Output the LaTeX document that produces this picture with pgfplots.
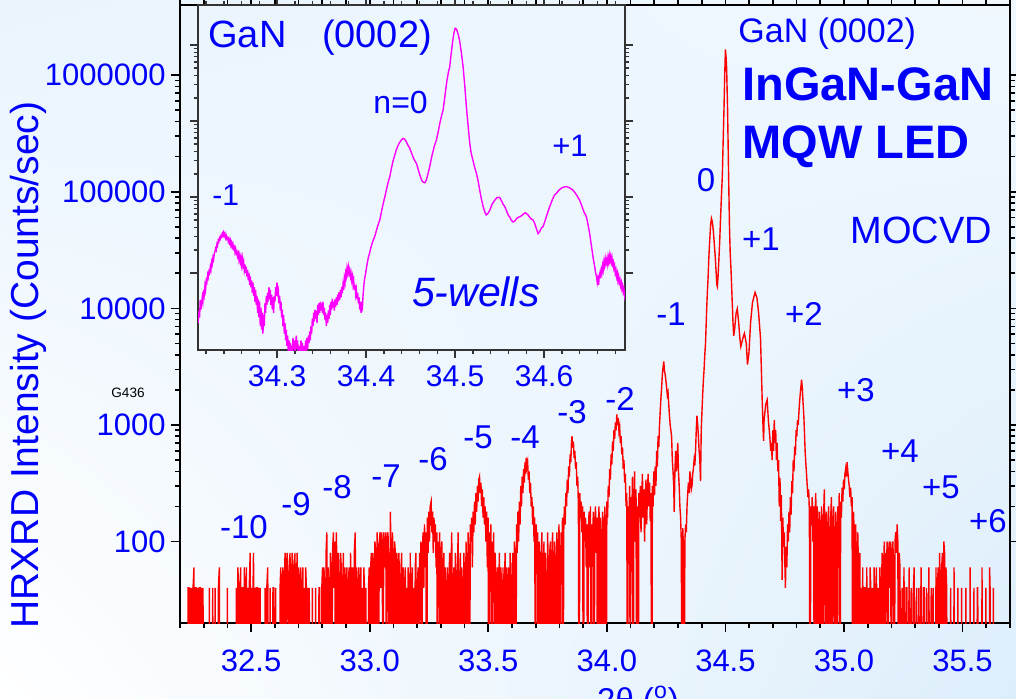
\documentclass[border=0pt]{standalone}
\usepackage{fontspec}
\setmainfont{Liberation Sans}
\usepackage{pgfplots}
\pgfplotsset{compat=1.18}
\usetikzlibrary{shadings}
\newcommand\fs[1]{\fontsize{#1}{#1}\selectfont}
\definecolor{txtblue}{RGB}{0,0,250}
\definecolor{mag}{RGB}{255,0,255}
\definecolor{rd}{RGB}{255,0,0}
\definecolor{bgTL}{RGB}{233,244,253}
\definecolor{bgTR}{RGB}{240,248,254}
\definecolor{bgBR}{RGB}{221,238,251}
\begin{document}
\begin{tikzpicture}
\path[use as bounding box] (0,0) rectangle (508pt,349pt);
\clip (0,0) rectangle (508pt,349pt);
\shade[upper left=bgTL, upper right=bgTR, lower left=white, lower right=bgBR] (0,0) rectangle (508pt,349pt);

\begin{axis}[
  at={(90pt,37.5pt)}, anchor=south west,
  width=415pt, height=309pt, scale only axis,
  xmin=32.2, xmax=35.7, ymode=log, ymin=20, ymax=4e6,
  xtick={32.5,33,...,35.5},
  minor xtick={32.2,32.3,...,35.7},
  ytick={100,1000,10000,100000,1000000},
  yticklabels={100,1000,10000,100000,1000000},
  tick align=outside,
  axis line style={line width=1pt},
  major tick length=4.5pt, minor tick length=2.5pt,
  every tick/.style={black, line width=0.8pt},
  xticklabel style={/pgf/number format/.cd, fixed, fixed zerofill, precision=1, assume math mode=true, /tikz/.cd,
    font=\fs{15.5}, text=txtblue, anchor=north, inner sep=0pt, yshift=-8.5pt},
  yticklabel style={font=\fs{15.5}, text=txtblue, anchor=east, inner sep=0pt, xshift=-2.5pt},
  clip=true,
]
\addplot[rd, line width=0.7pt] table {
x y
32.200 1
32.232 1
32.234 40
32.238 40
32.240 1
32.243 40
32.246 1
32.249 40
32.252 1
32.255 40
32.259 60
32.261 1
32.264 40
32.268 40
32.270 1
32.274 40
32.277 1
32.281 40
32.285 40
32.287 1
32.291 40
32.294 1
32.297 40
32.299 1
32.322 1
32.324 40
32.326 1
32.336 1
32.338 40
32.340 1
32.346 1
32.348 40
32.350 1
32.360 1
32.362 40
32.366 60
32.368 1
32.398 1
32.400 40
32.402 1
32.436 1
32.438 40
32.441 1
32.444 60
32.447 40
32.450 1
32.453 40
32.456 60
32.459 1
32.462 40
32.465 40
32.468 1
32.471 60
32.474 1
32.477 40
32.480 60
32.483 1
32.486 40
32.489 1
32.492 40
32.496 80
32.499 1
32.502 40
32.505 1
32.508 40
32.510 80
32.513 1
32.516 40
32.519 1
32.522 40
32.526 40
32.529 1
32.532 40
32.535 1
32.538 40
32.540 1
32.557 1
32.559 40
32.562 1
32.566 40
32.570 60
32.573 1
32.578 1
32.580 40
32.583 1
32.590 1
32.592 40
32.595 40
32.598 1
32.603 40
32.606 1
32.620 1
32.622 40
32.625 60
32.628 1
32.631 40
32.634 60
32.637 1
32.640 40
32.643 80
32.646 1
32.649 60
32.652 80
32.655 40
32.658 1
32.661 60
32.664 80
32.667 1
32.670 40
32.673 80
32.676 60
32.679 1
32.682 60
32.685 80
32.688 1
32.691 40
32.694 80
32.697 1
32.700 60
32.703 40
32.706 1
32.709 60
32.712 1
32.715 40
32.718 60
32.721 1
32.724 40
32.727 1
32.730 60
32.733 40
32.736 1
32.739 40
32.742 1
32.745 40
32.748 1
32.756 1
32.758 40
32.760 1
32.770 1
32.772 40
32.775 1
32.784 1
32.786 40
32.789 40
32.791 1
32.796 1
32.798 40
32.801 60
32.804 1
32.807 60
32.810 40
32.813 1
32.816 80
32.819 120
32.822 1
32.825 60
32.828 40
32.831 1
32.834 80
32.837 60
32.840 1
32.843 80
32.847 120
32.850 40
32.853 100
32.856 1
32.859 120
32.862 60
32.865 1
32.868 80
32.871 40
32.874 1
32.877 80
32.880 60
32.883 1
32.886 40
32.889 80
32.892 1
32.895 60
32.898 40
32.901 1
32.904 60
32.907 1
32.910 40
32.913 60
32.916 1
32.919 80
32.922 40
32.925 1
32.928 60
32.931 1
32.935 80
32.939 120
32.942 1
32.945 60
32.948 40
32.951 1
32.954 60
32.957 1
32.960 40
32.963 60
32.966 1
32.969 40
32.972 1
32.975 60
32.978 40
32.981 1
32.984 40
32.987 1
32.993 1
32.995 40
32.998 60
33.001 1
33.004 60
33.007 80
33.010 1
33.013 80
33.016 60
33.019 1
33.022 100
33.025 80
33.028 1
33.031 120
33.034 60
33.037 1
33.040 100
33.044 120
33.047 40
33.050 120
33.053 80
33.056 1
33.059 120
33.062 100
33.065 60
33.068 120
33.071 1
33.074 100
33.077 120
33.080 60
33.083 1
33.087 180
33.090 80
33.093 1
33.096 120
33.099 60
33.102 1
33.105 100
33.108 80
33.111 1
33.114 80
33.117 60
33.120 1
33.123 80
33.126 40
33.129 1
33.132 60
33.135 80
33.138 1
33.141 60
33.144 1
33.147 40
33.150 60
33.153 1
33.156 40
33.159 1
33.162 60
33.165 40
33.168 1
33.171 80
33.174 1
33.177 40
33.180 60
33.183 1
33.186 40
33.189 1
33.192 60
33.195 80
33.198 1
33.201 40
33.204 60
33.207 1
33.210 80
33.213 40
33.216 100
33.219 1
33.222 80
33.225 120
33.228 40
33.231 140
33.234 60
33.237 120
33.240 1
33.243 160
33.246 80
33.249 180
33.252 100
33.255 200
33.259 220
33.262 120
33.265 180
33.268 80
33.271 160
33.274 100
33.277 140
33.280 60
33.283 120
33.286 1
33.289 100
33.292 60
33.295 120
33.298 1
33.301 80
33.304 100
33.307 1
33.310 60
33.313 80
33.316 1
33.319 60
33.322 40
33.325 1
33.328 60
33.331 1
33.334 40
33.337 80
33.340 1
33.343 60
33.346 120
33.349 1
33.352 40
33.355 60
33.358 1
33.361 80
33.364 40
33.367 1
33.370 60
33.373 120
33.376 1
33.379 40
33.382 80
33.385 1
33.388 60
33.391 40
33.394 1
33.397 80
33.400 40
33.403 1
33.406 100
33.409 60
33.412 1
33.415 120
33.418 80
33.421 1
33.424 140
33.427 100
33.430 160
33.433 60
33.436 180
33.439 120
33.442 220
33.445 140
33.448 260
33.451 180
33.454 300
33.457 220
33.460 340
33.463 360
33.466 260
33.469 320
33.472 200
33.475 280
33.478 160
33.481 240
33.484 140
33.487 200
33.490 100
33.493 180
33.496 60
33.499 160
33.502 1
33.505 120
33.508 80
33.511 140
33.514 1
33.517 100
33.520 60
33.523 120
33.526 1
33.529 80
33.532 40
33.535 1
33.538 60
33.541 1
33.544 40
33.547 80
33.550 1
33.553 60
33.556 40
33.559 1
33.562 60
33.565 1
33.568 40
33.571 80
33.574 1
33.577 60
33.580 1
33.583 40
33.586 60
33.589 1
33.592 80
33.595 40
33.598 1
33.601 60
33.604 80
33.607 1
33.610 100
33.613 60
33.616 1
33.619 140
33.622 80
33.625 180
33.628 100
33.631 220
33.634 140
33.637 300
33.640 200
33.643 360
33.646 260
33.649 420
33.652 320
33.655 480
33.658 380
33.660 525
33.663 440
33.666 480
33.669 340
33.672 400
33.675 260
33.678 320
33.681 200
33.684 240
33.687 140
33.690 200
33.693 100
33.696 160
33.699 1
33.702 140
33.705 80
33.708 120
33.711 1
33.714 100
33.717 60
33.720 1
33.723 80
33.726 120
33.729 1
33.732 60
33.735 100
33.738 1
33.741 80
33.744 40
33.747 1
33.750 120
33.753 60
33.756 1
33.759 80
33.762 100
33.765 1
33.768 60
33.771 120
33.774 40
33.777 1
33.780 100
33.783 60
33.786 1
33.789 120
33.792 80
33.795 1
33.798 140
33.801 60
33.804 1
33.807 120
33.810 80
33.813 160
33.816 1
33.818 120
33.821 200
33.824 140
33.827 260
33.830 200
33.833 340
33.836 260
33.839 440
33.842 360
33.845 560
33.848 480
33.851 720
33.853 800
33.856 640
33.859 720
33.862 520
33.865 600
33.868 420
33.871 480
33.874 300
33.877 360
33.880 200
33.883 1
33.886 260
33.889 160
33.892 220
33.895 120
33.898 200
33.901 1
33.904 180
33.907 100
33.910 160
33.913 60
33.916 140
33.919 1
33.922 120
33.925 180
33.928 60
33.931 200
33.934 1
33.937 140
33.940 100
33.943 180
33.946 1
33.949 120
33.952 200
33.955 80
33.958 160
33.961 1
33.964 140
33.967 200
33.970 1
33.973 160
33.976 100
33.979 1
33.982 180
33.985 120
33.988 1
33.991 200
33.994 140
33.997 1
34.000 220
34.003 160
34.006 300
34.009 240
34.012 420
34.015 340
34.018 560
34.021 460
34.024 720
34.027 600
34.030 900
34.033 760
34.036 1050
34.039 900
34.042 1230
34.045 1000
34.048 1150
34.051 880
34.054 960
34.057 700
34.060 800
34.063 560
34.066 640
34.069 420
34.072 500
34.075 320
34.078 380
34.081 200
34.084 260
34.087 1
34.090 200
34.093 120
34.096 300
34.099 1
34.102 240
34.105 140
34.108 360
34.111 1
34.114 220
34.117 400
34.120 100
34.123 280
34.126 1
34.129 200
34.132 1
34.135 260
34.138 160
34.141 300
34.144 120
34.147 240
34.150 380
34.153 160
34.156 280
34.159 100
34.162 220
34.165 340
34.168 140
34.171 260
34.174 380
34.177 200
34.180 320
34.183 150
34.186 260
34.189 1
34.192 300
34.195 200
34.198 400
34.201 250
34.204 440
34.207 300
34.210 600
34.213 440
34.216 800
34.219 650
34.222 1000
34.225 1300
34.228 1700
34.231 2100
34.234 2700
34.237 3100
34.240 3500
34.243 2900
34.246 2700
34.249 2400
34.252 2100
34.255 1800
34.258 1900
34.261 1500
34.264 1200
34.267 1000
34.270 900
34.273 800
34.276 500
34.279 400
34.282 300
34.284 180
34.287 400
34.290 600
34.293 400
34.296 500
34.299 700
34.302 400
34.305 300
34.308 200
34.311 160
34.314 100
34.317 1
34.320 130
34.323 90
34.326 1
34.329 100
34.332 140
34.335 120
34.338 200
34.341 260
34.344 320
34.347 260
34.350 400
34.353 350
34.356 280
34.359 300
34.362 380
34.365 420
34.368 500
34.371 450
34.374 600
34.377 900
34.380 1200
34.383 1000
34.386 800
34.389 600
34.392 500
34.395 330
34.398 900
34.401 1300
34.404 1800
34.407 2400
34.410 3000
34.413 4000
34.416 5000
34.419 7500
34.421 10000
34.424 14000
34.427 18500
34.430 27000
34.433 36000
34.436 46000
34.438 53000
34.441 59000
34.445 55000
34.449 46000
34.453 36000
34.457 27700
34.461 20000
34.464 15900
34.466 15400
34.469 19000
34.472 25200
34.476 38000
34.479 56200
34.483 90000
34.487 139000
34.490 250000
34.494 519000
34.497 1000000
34.500 1660000
34.503 1400000
34.505 1160000
34.509 519000
34.513 154000
34.517 51000
34.520 30600
34.524 20500
34.528 12300
34.532 7500
34.535 5800
34.539 6700
34.545 9100
34.550 9900
34.556 7500
34.561 5500
34.565 4700
34.573 5500
34.580 6100
34.588 5000
34.593 3300
34.599 4100
34.606 7500
34.614 11200
34.625 13700
34.633 12300
34.640 9100
34.648 5500
34.651 3300
34.655 1640
34.659 900
34.661 730
34.663 1100
34.670 1500
34.676 1640
34.681 1100
34.687 800
34.691 600
34.694 700
34.697 500
34.700 900
34.703 600
34.706 1100
34.709 700
34.712 900
34.715 500
34.718 700
34.721 400
34.724 500
34.727 200
34.730 350
34.733 150
34.736 250
34.739 47
34.742 160
34.745 90
34.748 120
34.751 60
34.753 40
34.756 90
34.759 60
34.762 140
34.765 100
34.768 180
34.771 120
34.774 240
34.777 170
34.780 330
34.783 260
34.786 500
34.789 400
34.792 650
34.795 550
34.798 900
34.801 800
34.804 1100
34.807 1000
34.810 1300
34.813 1600
34.816 1900
34.819 2200
34.821 2450
34.824 2100
34.827 1600
34.830 1270
34.833 900
34.836 600
34.839 470
34.842 380
34.845 300
34.848 240
34.851 280
34.854 180
34.857 1
34.860 200
34.863 140
34.866 240
34.869 100
34.872 200
34.875 1
34.878 160
34.881 260
34.884 1
34.887 200
34.890 120
34.893 1
34.896 180
34.899 100
34.902 1
34.905 200
34.908 140
34.911 1
34.914 160
34.917 280
34.920 80
34.923 1
34.926 180
34.929 120
34.932 1
34.935 200
34.938 100
34.941 1
34.944 160
34.947 240
34.950 1
34.953 140
34.956 200
34.959 60
34.962 1
34.965 180
34.968 120
34.971 1
34.974 200
34.977 140
34.980 260
34.983 1
34.986 220
34.989 160
34.992 290
34.995 220
34.998 340
35.001 280
35.004 380
35.007 420
35.010 360
35.013 480
35.016 400
35.019 340
35.022 300
35.025 240
35.028 290
35.031 200
35.034 240
35.037 1
35.040 180
35.043 120
35.046 1
35.049 140
35.052 80
35.055 1
35.058 120
35.061 60
35.064 1
35.067 80
35.070 1
35.073 40
35.076 1
35.079 60
35.082 1
35.086 40
35.089 40
35.092 1
35.096 60
35.099 1
35.103 40
35.106 1
35.110 60
35.113 40
35.116 1
35.120 40
35.123 1
35.127 60
35.130 1
35.134 40
35.137 60
35.140 1
35.144 40
35.147 1
35.151 60
35.154 1
35.158 40
35.161 80
35.164 1
35.167 60
35.170 100
35.173 1
35.176 80
35.179 60
35.182 100
35.185 1
35.188 80
35.191 100
35.194 40
35.197 100
35.200 1
35.203 80
35.206 100
35.209 60
35.212 1
35.215 100
35.218 120
35.221 80
35.224 140
35.227 100
35.230 1
35.233 80
35.236 60
35.239 1
35.245 40
35.248 1
35.253 60
35.256 1
35.262 40
35.265 40
35.268 1
35.275 60
35.278 1
35.284 40
35.287 1
35.293 40
35.296 60
35.299 1
35.306 40
35.309 1
35.316 40
35.319 1
35.325 60
35.328 1
35.335 40
35.338 40
35.341 1
35.348 40
35.351 1
35.358 60
35.361 1
35.368 40
35.371 1
35.376 40
35.379 1
35.385 1
35.388 60
35.391 1
35.394 40
35.397 60
35.400 1
35.403 80
35.406 40
35.409 1
35.412 60
35.415 80
35.418 1
35.421 100
35.424 80
35.427 1
35.430 60
35.433 40
35.436 1
35.448 1
35.450 40
35.452 1
35.462 1
35.464 60
35.466 1
35.478 1
35.480 40
35.482 1
35.494 1
35.496 40
35.498 1
35.512 1
35.514 40
35.516 1
35.530 1
35.532 60
35.534 1
35.546 1
35.548 40
35.550 1
35.560 1
35.562 40
35.564 40
35.566 1
35.580 1
35.582 60
35.584 1
35.596 1
35.598 40
35.600 1
35.612 1
35.614 60
35.616 40
35.618 1
35.628 1
35.630 40
35.632 1
35.700 1
};
\end{axis}

\begin{axis}[
  at={(99pt,174pt)}, anchor=south west,
  width=213.5pt, height=172.5pt, scale only axis,
  xmin=34.211, xmax=34.691, ymode=log, ymin=97, ymax=3.36e6,
  xtick={34.3,34.4,34.5,34.6},
  minor xtick={34.22,34.24,...,34.68},
  ytick={1000,10000,100000,1000000},
  yticklabels={,,,},
  tick align=outside,
  axis line style={line width=0.8pt, black!80},
  major tick length=4pt, minor tick length=2.2pt,
  every tick/.style={black!80, line width=0.7pt},
  xticklabel style={/pgf/number format/.cd, fixed, fixed zerofill, precision=1, assume math mode=true, /tikz/.cd,
    font=\fs{15}, text=txtblue, anchor=north, inner sep=0pt, yshift=-3.5pt},
  clip=true,
]
\addplot[mag, line width=0.7pt] table {
x y
34.2112 220
34.2120 320
34.2128 260
34.2135 440
34.2143 330
34.2150 400
34.2158 480
34.2165 420
34.2173 600
34.2180 520
34.2188 680
34.2195 600
34.2203 800
34.2210 760
34.2218 950
34.2225 880
34.2233 1050
34.2240 1000
34.2248 1200
34.2255 1100
34.2263 1400
34.2270 1300
34.2278 1600
34.2285 1500
34.2293 1800
34.2300 1900
34.2308 2100
34.2315 2000
34.2323 2400
34.2330 2300
34.2338 2700
34.2345 2600
34.2353 2900
34.2360 2800
34.2368 3100
34.2375 3000
34.2383 3300
34.2390 3100
34.2398 3400
34.2405 3100
34.2413 3300
34.2420 2900
34.2428 3100
34.2435 2800
34.2443 2900
34.2450 2600
34.2458 2800
34.2465 2500
34.2473 2700
34.2480 2300
34.2488 2500
34.2495 2200
34.2503 2400
34.2510 2100
34.2518 2200
34.2525 1900
34.2533 2100
34.2540 1800
34.2548 1900
34.2555 1650
34.2563 1800
34.2570 1500
34.2578 1700
34.2585 1400
34.2593 1600
34.2600 1300
34.2608 1550
34.2615 1250
34.2623 1400
34.2630 1100
34.2638 1300
34.2645 1000
34.2653 1200
34.2660 900
34.2668 1100
34.2675 800
34.2683 1000
34.2690 700
34.2698 900
34.2705 650
34.2713 800
34.2720 550
34.2728 750
34.2735 500
34.2743 650
34.2750 420
34.2758 600
34.2765 380
34.2773 500
34.2780 300
34.2788 450
34.2795 260
34.2803 420
34.2810 200
34.2818 350
34.2825 180
34.2833 300
34.2840 160
34.2848 280
34.2855 200
34.2863 400
34.2870 300
34.2878 500
34.2885 380
34.2893 550
34.2900 420
34.2908 650
34.2915 450
34.2923 600
34.2930 380
34.2938 520
34.2945 330
34.2953 480
34.2960 300
34.2968 500
34.2975 420
34.2983 650
34.2990 500
34.2998 750
34.3005 550
34.3013 600
34.3020 400
34.3028 500
34.3035 320
34.3043 420
34.3050 260
34.3058 330
34.3065 200
34.3073 280
34.3080 160
34.3088 220
34.3095 130
34.3103 180
34.3110 110
34.3118 150
34.3125 90
34.3133 130
34.3140 80
34.3148 120
34.3155 70
34.3163 110
34.3170 90
34.3178 140
34.3185 100
34.3193 130
34.3200 80
34.3208 120
34.3215 150
34.3223 100
34.3230 130
34.3238 80
34.3245 110
34.3253 70
34.3260 100
34.3268 130
34.3275 90
34.3283 120
34.3290 80
34.3298 110
34.3305 70
34.3313 100
34.3320 130
34.3328 90
34.3335 140
34.3343 100
34.3350 150
34.3358 120
34.3365 170
34.3373 130
34.3380 200
34.3388 160
34.3395 250
34.3403 200
34.3410 300
34.3418 230
34.3425 330
34.3433 250
34.3440 320
34.3448 220
34.3455 380
34.3463 280
34.3470 400
34.3478 300
34.3485 420
34.3493 320
34.3500 400
34.3508 300
34.3515 420
34.3523 280
34.3530 350
34.3538 240
34.3545 300
34.3553 200
34.3560 280
34.3568 220
34.3575 320
34.3583 250
34.3590 380
34.3598 280
34.3605 420
34.3613 330
34.3620 460
34.3628 350
34.3635 420
34.3643 320
34.3650 450
34.3658 360
34.3665 480
34.3673 380
34.3680 520
34.3688 420
34.3695 560
34.3703 440
34.3710 600
34.3718 480
34.3725 650
34.3733 540
34.3740 700
34.3748 600
34.3755 850
34.3763 750
34.3770 1000
34.3778 900
34.3785 1150
34.3793 1000
34.3800 1200
34.3808 1000
34.3815 1100
34.3823 900
34.3830 1000
34.3838 800
34.3845 900
34.3853 700
34.3860 800
34.3868 600
34.3875 700
34.3883 520
34.3890 600
34.3898 450
34.3905 550
34.3913 400
34.3920 480
34.3928 330
34.3935 420
34.3943 300
34.3950 380
34.3958 350
34.3965 500
34.3973 650
34.3980 800
34.3988 900
34.3995 1000
34.4010 1300
34.4025 1600
34.4040 1850
34.4055 2200
34.4070 2500
34.4085 2800
34.4100 3100
34.4120 3800
34.4140 4500
34.4154 5000
34.4170 6200
34.4190 8000
34.4210 10000
34.4230 12800
34.4250 16000
34.4266 18500
34.4285 24000
34.4300 29000
34.4320 35000
34.4340 42000
34.4360 48000
34.4380 53000
34.4400 57000
34.4416 59000
34.4430 58000
34.4450 54000
34.4470 48000
34.4490 44000
34.4510 38000
34.4530 33000
34.4550 29500
34.4566 27700
34.4590 22000
34.4610 18500
34.4630 16200
34.4645 15600
34.4660 15400
34.4675 16500
34.4690 19000
34.4715 25200
34.4740 35000
34.4765 46000
34.4790 56200
34.4810 72000
34.4830 95000
34.4850 120000
34.4865 139000
34.4885 210000
34.4905 320000
34.4925 440000
34.4940 519000
34.4955 750000
34.4970 1050000
34.4985 1400000
34.5000 1660000
34.5015 1620000
34.5030 1450000
34.5050 1160000
34.5070 800000
34.5090 519000
34.5110 280000
34.5127 154000
34.5145 90000
34.5165 51000
34.5180 38000
34.5200 30600
34.5220 24500
34.5240 20500
34.5260 16000
34.5277 12300
34.5295 9500
34.5315 7500
34.5335 6300
34.5350 5800
34.5370 6100
34.5390 6700
34.5415 8000
34.5446 9100
34.5470 9800
34.5500 9900
34.5520 9000
34.5540 8000
34.5558 7500
34.5580 6500
34.5600 5700
34.5614 5500
34.5630 5000
34.5650 4700
34.5670 4800
34.5690 5200
34.5710 5400
34.5727 5500
34.5750 5700
34.5770 6000
34.5790 6200
34.5800 6100
34.5820 5800
34.5840 5400
34.5860 5100
34.5876 5000
34.5895 4500
34.5915 3800
34.5933 3300
34.5950 3500
34.5970 3900
34.5990 4100
34.6010 4800
34.6040 6200
34.6064 7500
34.6090 9000
34.6115 10500
34.6140 11200
34.6170 12400
34.6200 13200
34.6230 13600
34.6250 13700
34.6275 13400
34.6300 12900
34.6326 12300
34.6350 11300
34.6375 10200
34.6400 9100
34.6425 7600
34.6450 6300
34.6476 5500
34.6495 4300
34.6513 3300
34.6530 2400
34.6550 1640
34.6560 1400
34.6570 1200
34.6580 1000
34.6590 900
34.6598 750
34.6605 850
34.6613 700
34.6620 900
34.6628 1000
34.6635 850
34.6643 1100
34.6650 1000
34.6658 1250
34.6665 1100
34.6673 1400
34.6680 1250
34.6688 1550
34.6695 1350
34.6703 1500
34.6710 1300
34.6718 1600
34.6725 1400
34.6733 1700
34.6740 1450
34.6748 1650
34.6755 1400
34.6763 1600
34.6770 1300
34.6778 1400
34.6785 1150
34.6793 1250
34.6800 1000
34.6808 1100
34.6815 900
34.6823 1000
34.6830 800
34.6838 900
34.6845 750
34.6853 820
34.6860 680
34.6868 750
34.6875 620
34.6883 680
34.6890 560
34.6898 620
34.6905 520
34.6910 600
};
\end{axis}

% main annotations
\node[anchor=base west, text=txtblue, inner sep=0pt, font=\fs{17}] at (369pt,327.5pt) {GaN (0002)};
\node[anchor=base west, text=txtblue, inner sep=0pt, font=\fs{23.5}\bfseries] at (371pt,299pt) {InGaN-GaN};
\node[anchor=base west, text=txtblue, inner sep=0pt, font=\fs{23.5}\bfseries] at (371pt,270pt) {MQW LED};
\node[anchor=base west, text=txtblue, inner sep=0pt, font=\fs{19}] at (425pt,227.5pt) {MOCVD};
\begin{scope}[every node/.style={anchor=base, text=txtblue, inner sep=0pt, font=\fs{16.5}}]
\node at (122pt,80pt) {-10};
\node at (148pt,91.5pt) {-9};
\node at (168.5pt,100pt) {-8};
\node at (193pt,105.5pt) {-7};
\node at (216.5pt,114pt) {-6};
\node at (239pt,125pt) {-5};
\node at (262.5pt,125pt) {-4};
\node at (286pt,137.5pt) {-3};
\node at (310pt,144pt) {-2};
\node at (335.5pt,186.5pt) {-1};
\node at (353pt,253.5pt) {0};
\node at (380.5pt,224pt) {+1};
\node at (402pt,186.5pt) {+2};
\node at (428pt,148.5pt) {+3};
\node at (450pt,118pt) {+4};
\node at (470.5pt,100pt) {+5};
\node at (494pt,83pt) {+6};
\end{scope}
% inset annotations
\node[anchor=base west, text=txtblue, inner sep=0pt, font=\fs{19}] at (104pt,325pt) {GaN};
\node[anchor=base west, text=txtblue, inner sep=0pt, font=\fs{19}] at (160.8pt,325pt) {(0002)};
\node[anchor=base, text=txtblue, inner sep=0pt, font=\fs{16}] at (200.3pt,292.5pt) {n=0};
\node[anchor=base, text=txtblue, inner sep=0pt, font=\fs{15.5}] at (285pt,270.7pt) {+1};
\node[anchor=base, text=txtblue, inner sep=0pt, font=\fs{15}] at (112.8pt,246.5pt) {-1};
\node[anchor=base west, text=txtblue, inner sep=0pt, font=\fs{20.5}\itshape] at (205.8pt,195.7pt) {5-wells};
% misc
\node[anchor=base, text=black, inner sep=0pt, font=\fs{6.8}] at (64pt,150.5pt) {G436};
\node[anchor=base, rotate=90, text=txtblue, inner sep=0pt, font=\fs{19.5}] at (19pt,166.5pt) {HRXRD Intensity (Counts/sec)};
\node[anchor=base, text=txtblue, inner sep=0pt, font=\fs{16.5}] at (319pt,-6.5pt) {2θ (\textsuperscript{o})};
\end{tikzpicture}
\end{document}
